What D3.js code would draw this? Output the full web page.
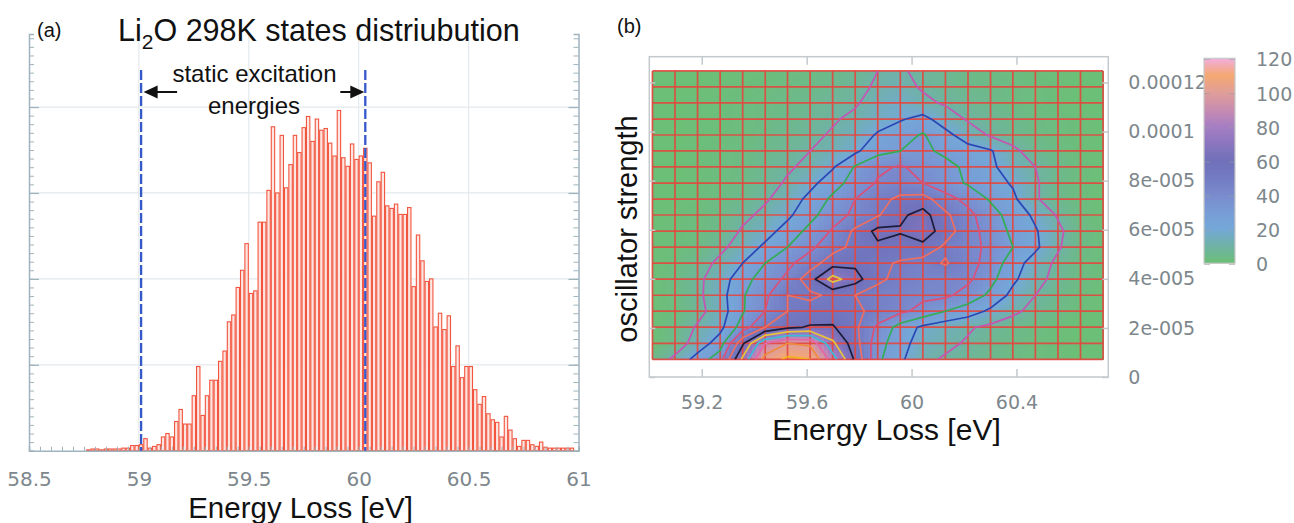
<!DOCTYPE html>
<html>
<head>
<meta charset="utf-8">
<script src="https://cdn.jsdelivr.net/npm/d3@7"></script>
<style>
  body { margin: 0; background: #fff; }
  text { font-family: "Liberation Sans", Arial, sans-serif; fill: #111; }
  .lbl text { font-family: "DejaVu Sans", Verdana, sans-serif; fill: #7d878c; }
</style>
</head>
<body>
<svg id="fig" width="1294" height="523"></svg>
<script>
// ---------- panel (a): states distribution ----------
const binStart = 58.76;
const binWidth = 0.02;
const counts = [1, 2, 2, 1, 2, 2, 2, 2, 3, 3, 6, 6, 7, 14,
  3, 5, 7, 16, 20, 16, 34, 48, 31, 31,
  64, 98, 41, 64, 82, 82, 104, 116, 150, 158,
  190, 210, 241, 183, 186, 266, 266, 303, 377, 300,
  367, 306, 333, 367, 347, 376, 389, 360, 386, 373,
  375, 358, 343, 396, 341, 331, 357, 339, 343, 352,
  335, 273, 313, 324, 285, 282, 287, 275, 275, 283,
  191, 251, 221, 197, 200, 144, 160, 141, 157, 98,
  122, 85, 98, 98, 71, 54, 63, 43, 36, 33,
  16, 40, 24, 14, 5, 12, 12, 7, 5, 10,
  4, 3, 3, 3, 3, 3, 3];
const staticLines = [59.01, 60.03];
const histTicks = [58.5, 59, 59.5, 60, 60.5, 61];
const histGrid = [59, 59.5, 60, 60.5];

// ---------- panel (b): oscillator strength map ----------
const energyNodes = [59.012, 59.098, 59.184, 59.270, 59.356, 59.442, 59.527, 59.613, 59.699, 59.785,
  59.871, 59.957, 60.043, 60.129, 60.215, 60.301, 60.386, 60.472, 60.558, 60.644, 60.730];
// rows from top (largest strength) to bottom, in units of 1e-6
const strengthNodes = [124.7, 118.2, 111.7, 105.1, 98.6, 92.1, 85.6, 79.0, 72.5, 66.0,
  59.4, 52.9, 46.4, 39.9, 33.3, 26.8, 20.3, 13.7, 7.2];
const density = [
  [0, 0, 0, 0, 1, 1, 2, 3, 4, 6, 10, 11, 8, 6, 4, 3, 2, 1, 1, 0, 0],
  [0, 0, 0, 1, 1, 2, 3, 4, 6, 8, 11, 13, 9, 7, 5, 4, 3, 2, 1, 0, 0],
  [0, 0, 1, 1, 2, 3, 4, 6, 8, 9, 14, 17, 12, 9, 7, 5, 3, 2, 1, 0, 0],
  [0, 0, 1, 1, 2, 3, 5, 7, 9, 12, 16, 19, 23, 15, 9, 7, 5, 3, 2, 1, 0],
  [0, 0, 1, 1, 2, 4, 6, 8, 11, 15, 21, 26, 31, 23, 15, 9, 6, 4, 2, 1, 0],
  [0, 0, 1, 2, 3, 5, 7, 10, 13, 18, 27, 30, 32, 28, 24, 21, 12, 6, 3, 1, 0],
  [0, 0, 1, 2, 3, 6, 9, 12, 19, 31, 38, 41, 37, 33, 28, 22, 15, 10, 5, 2, 0],
  [0, 0, 1, 2, 4, 7, 11, 17, 26, 34, 41, 44, 40, 34, 29, 24, 19, 11, 5, 2, 0],
  [0, 0, 1, 3, 5, 9, 14, 23, 32, 40, 47, 52, 54, 44, 37, 29, 22, 11, 5, 2, 0],
  [0, 1, 2, 4, 8, 12, 18, 27, 36, 42, 49, 58, 64, 52, 43, 34, 26, 18, 9, 3, 0],
  [0, 1, 2, 5, 11, 16, 24, 33, 41, 52, 63, 61, 66, 55, 44, 36, 28, 21, 12, 4, 1],
  [0, 1, 3, 8, 14, 22, 30, 38, 46, 53, 58, 55, 57, 48, 43, 38, 30, 22, 11, 4, 1],
  [0, 2, 6, 12, 20, 30, 38, 45, 56, 58, 52, 49, 46, 51, 44, 36, 25, 15, 8, 3, 1],
  [0, 3, 8, 15, 26, 35, 42, 56, 74, 64, 52, 47, 44, 43, 42, 33, 22, 13, 7, 3, 1],
  [0, 3, 8, 16, 29, 38, 50, 48, 52, 50, 46, 44, 42, 42, 36, 28, 17, 10, 5, 2, 0],
  [0, 2, 7, 15, 29, 40, 50, 54, 55, 52, 47, 42, 37, 30, 25, 18, 12, 7, 4, 1, 0],
  [0, 4, 11, 17, 35, 50, 58, 61, 61, 52, 38, 26, 18, 14, 11, 8, 5, 3, 1, 0, 0],
  [0, 5, 14, 25, 58, 90, 100, 98, 72, 54, 34, 24, 15, 12, 9, 6, 4, 2, 1, 0, 0],
  [4, 12, 24, 36, 72, 104, 112, 110, 85, 58, 32, 22, 12, 9, 7, 5, 3, 2, 1, 0, 0]
];
const contourLevels = [10, 20, 30, 40, 50, 60, 70, 80, 90, 100, 110];
const contourColors = ['#c455b4', '#2a48b4', '#33ad55', '#d9507a', '#ee6f62', '#1c1c3a',
  '#e6c43a', '#3cbcd6', '#e466a6', '#f08a3c', '#f0b020'];
const colorStops = [0, 10, 20, 30, 40, 50, 60, 70, 80, 90, 100, 110, 120];
const colorValues = ['#6cbf76', '#6fb2a4', '#74a8d8', '#789cd6', '#7a8bcd', '#737bc2', '#7070b9',
  '#8a76bf', '#a67ec3', '#c78cb0', '#e09e98', '#f4a872', '#f2aede'];
const mapXTicks = [59.2, 59.6, 60, 60.4];
const mapYTicks = [0, 2e-5, 4e-5, 6e-5, 8e-5, 1e-4, 1.2e-4];
const mapYLabels = ['0', '2e-005', '4e-005', '6e-005', '8e-005', '0.0001', '0.00012'];
const barTicks = [0, 20, 40, 60, 80, 100, 120];

const svg = d3.select('#fig');

// ================= panel (a) =================
let x = d3.scaleLinear().domain([58.5, 61]).range([29, 578.5]);
let y = d3.scaleLinear().domain([0, 485]).range([450.7, 34]);

// grid
svg.append('g').selectAll('line.vg').data(histGrid).enter().append('line')
  .attr('x1', (d) => x(d)).attr('x2', (d) => x(d)).attr('y1', y(485)).attr('y2', y(0))
  .attr('stroke', '#e3e9ed').attr('stroke-width', 1.2);
svg.append('g').selectAll('line.hg').data([100, 200, 300, 400]).enter().append('line')
  .attr('x1', x(58.5)).attr('x2', x(61)).attr('y1', (d) => y(d)).attr('y2', (d) => y(d))
  .attr('stroke', '#e3e9ed').attr('stroke-width', 1.2);

// bars
let bins = counts.map((c, i) => ({ x0: binStart + i * binWidth, x1: binStart + (i + 1) * binWidth, n: c }));
svg.append('g').selectAll('rect').data(bins).enter().append('rect')
  .attr('x', (d) => x(d.x0) + 0.5)
  .attr('y', (d) => y(d.n))
  .attr('width', (d) => x(d.x1) - x(d.x0) - 1)
  .attr('height', (d) => y(0) - y(d.n))
  .attr('fill', '#fde6e1')
  .attr('stroke', '#f2553f')
  .attr('stroke-width', 1.1);

// axes
let axisColor = '#9fb3be';
let minorX = d3.range(58.5, 61.001, 0.05);
svg.append('g').attr('transform', `translate(0,${y(0)})`)
  .call(d3.axisBottom(x).tickValues(minorX).tickSize(-4).tickFormat(''))
  .call((g) => g.selectAll('line').attr('stroke', axisColor))
  .call((g) => g.select('.domain').attr('stroke', axisColor).attr('stroke-width', 1.5));
svg.append('g').attr('class', 'lbl').attr('transform', `translate(0,${y(0)})`)
  .call(d3.axisBottom(x).tickValues(histTicks).tickSize(0).tickPadding(21.5).tickFormat((d) => d))
  .call((g) => g.select('.domain').remove())
  .call((g) => g.selectAll('text').attr('font-size', 20));

let minorY = d3.range(0, 481, 10);
[[x(58.5), d3.axisRight], [x(61), d3.axisLeft]].forEach(([px, ax]) => {
  svg.append('g').attr('transform', `translate(${px},0)`)
    .call(ax(y).tickValues(minorY).tickSize(5).tickFormat(''))
    .call((g) => g.selectAll('line').attr('stroke', axisColor))
    .call((g) => g.select('.domain').attr('stroke', axisColor).attr('stroke-width', 1.5));
  svg.append('g').attr('transform', `translate(${px},0)`)
    .call(ax(y).tickValues([100, 200, 300, 400]).tickSize(10).tickFormat(''))
    .call((g) => g.selectAll('line').attr('stroke', axisColor).attr('stroke-width', 1.3))
    .call((g) => g.select('.domain').remove());
});

// static excitation lines
svg.append('g').selectAll('line').data(staticLines).enter().append('line')
  .attr('x1', (d) => x(d)).attr('x2', (d) => x(d))
  .attr('y1', 70).attr('y2', y(0))
  .attr('stroke', '#3559c9').attr('stroke-width', 2.3).attr('stroke-dasharray', '10,3');

// arrows
let arrowY = 92;
function arrow(tip, tail) {
  let dir = Math.sign(tip - tail);
  svg.append('line').attr('x1', tail).attr('x2', tip - dir * 10).attr('y1', arrowY).attr('y2', arrowY)
    .attr('stroke', '#111').attr('stroke-width', 2);
  svg.append('path')
    .attr('d', `M${tip},${arrowY} L${tip - dir * 14},${arrowY - 6.5} L${tip - dir * 14},${arrowY + 6.5} Z`)
    .attr('fill', '#111');
}
arrow(x(staticLines[0]) + 2.5, x(staticLines[0]) + 36);
arrow(x(staticLines[1]) - 1, x(staticLines[1]) - 25);

svg.append('text').attr('x', 254.5).attr('y', 82).attr('text-anchor', 'middle').attr('font-size', 24).text('static excitation');
svg.append('text').attr('x', 254).attr('y', 114).attr('text-anchor', 'middle').attr('font-size', 24).text('energies');

// titles
svg.append('text').attr('x', 37).attr('y', 37).attr('font-size', 20).text('(a)');
let title = svg.append('text').attr('x', 118).attr('y', 41).attr('font-size', 30.5);
title.append('tspan').text('Li');
title.append('tspan').attr('font-size', 21).attr('dy', 8).text('2');
title.append('tspan').attr('dy', -8).text('O 298K states distriubution');
svg.append('text').attr('x', 300.5).attr('y', 518).attr('text-anchor', 'middle').attr('font-size', 29.5).text('Energy Loss [eV]');

// ================= panel (b) =================
let xm = d3.scaleLinear().domain([59.0, 60.75]).range([649.3, 1108.3]);
let ym = d3.scaleLinear().domain([0, 1.305e-4]).range([377, 56.7]);
let color = d3.scaleLinear().domain(colorStops).range(colorValues).clamp(true);

let nx = energyNodes.length, ny = strengthNodes.length;
let xn = energyNodes.map((e) => xm(e));
let yn = strengthNodes.map((s) => ym(s * 1e-6));

// interpolated heat map (each cell split into sub-cells)
let sub = 5;
let pieces = [];
for (let j = 0; j < ny - 1; j++) {
  for (let i = 0; i < nx - 1; i++) {
    for (let a = 0; a < sub; a++) {
      for (let b = 0; b < sub; b++) {
        let u = (a + 0.5) / sub, v = (b + 0.5) / sub;
        let val = density[j][i] * (1 - u) * (1 - v) + density[j][i + 1] * u * (1 - v)
          + density[j + 1][i] * (1 - u) * v + density[j + 1][i + 1] * u * v;
        let x0 = xn[i] + (xn[i + 1] - xn[i]) * a / sub;
        let y0 = yn[j] + (yn[j + 1] - yn[j]) * b / sub;
        pieces.push({ x: x0, y: y0, w: (xn[i + 1] - xn[i]) / sub, h: (yn[j + 1] - yn[j]) / sub, v: val });
      }
    }
  }
}
svg.append('g').attr('shape-rendering', 'crispEdges').selectAll('rect').data(pieces).enter().append('rect')
  .attr('x', (d) => d.x).attr('y', (d) => d.y)
  .attr('width', (d) => d.w + 0.6).attr('height', (d) => d.h + 0.6)
  .attr('fill', (d) => color(d.v));

// red mesh
let mesh = svg.append('g').attr('stroke', '#e4463e').attr('stroke-width', 1.7).attr('stroke-opacity', 0.9);
mesh.selectAll('line.v').data(xn).enter().append('line')
  .attr('x1', (d) => d).attr('x2', (d) => d).attr('y1', yn[0]).attr('y2', yn[ny - 1]);
mesh.selectAll('line.h').data(yn).enter().append('line')
  .attr('y1', (d) => d).attr('y2', (d) => d).attr('x1', xn[0]).attr('x2', xn[nx - 1]);

// contour lines
svg.append('clipPath').attr('id', 'mapclip').append('rect')
  .attr('x', xn[0]).attr('y', yn[0]).attr('width', xn[nx - 1] - xn[0]).attr('height', yn[ny - 1] - yn[0]);
let gx = d3.scaleLinear().domain([0.5, nx - 0.5]).range([xn[0], xn[nx - 1]]);
let gy = d3.scaleLinear().domain([0.5, ny - 0.5]).range([yn[0], yn[ny - 1]]);
let proj = d3.geoTransform({ point: function (px, py) { this.stream.point(gx(px), gy(py)); } });
let contours = d3.contours().size([nx, ny]).thresholds(contourLevels)(density.flat());
svg.append('g').attr('clip-path', 'url(#mapclip)').selectAll('path').data(contours).enter().append('path')
  .attr('d', d3.geoPath(proj))
  .attr('fill', 'none')
  .attr('stroke', (d) => contourColors[contourLevels.indexOf(d.value)])
  .attr('stroke-width', 1.7)
  .attr('stroke-linejoin', 'round');

// frame and ticks
let frameColor = '#c3c9cd';
svg.append('rect').attr('x', xm(59.0)).attr('y', ym(1.305e-4))
  .attr('width', xm(60.75) - xm(59.0)).attr('height', ym(0) - ym(1.305e-4))
  .attr('fill', 'none').attr('stroke', frameColor).attr('stroke-width', 1.5);
svg.append('g').attr('transform', `translate(0,${ym(1.305e-4)})`)
  .call(d3.axisTop(xm).tickValues(mapXTicks).tickSize(-8).tickFormat(''))
  .call((g) => g.select('.domain').remove())
  .call((g) => g.selectAll('line').attr('stroke', frameColor).attr('stroke-width', 1.5));
svg.append('g').attr('class', 'lbl').attr('transform', `translate(0,${ym(0)})`)
  .call(d3.axisBottom(xm).tickValues(mapXTicks).tickSize(-8).tickPadding(18.5).tickFormat((d) => d))
  .call((g) => g.select('.domain').remove())
  .call((g) => g.selectAll('line').attr('stroke', frameColor).attr('stroke-width', 1.5))
  .call((g) => g.selectAll('text').attr('font-size', 19));
svg.append('g').attr('transform', `translate(${xm(59.0)},0)`)
  .call(d3.axisRight(ym).tickValues(mapYTicks).tickSize(6).tickFormat(''))
  .call((g) => g.select('.domain').remove())
  .call((g) => g.selectAll('line').attr('stroke', frameColor).attr('stroke-width', 1.5));
svg.append('g').attr('class', 'lbl').attr('transform', `translate(${xm(60.75)},0)`)
  .call(d3.axisRight(ym).tickValues(mapYTicks).tickSize(-6).tickPadding(20)
    .tickFormat((d, i) => mapYLabels[i]))
  .call((g) => g.select('.domain').remove())
  .call((g) => g.selectAll('line').attr('stroke', frameColor).attr('stroke-width', 1.5))
  .call((g) => g.selectAll('text').attr('font-size', 19));

// colour bar
let cb = d3.scaleLinear().domain([0, 120]).range([264, 59]);
let grad = svg.append('defs').append('linearGradient').attr('id', 'cbgrad')
  .attr('x1', 0).attr('x2', 0).attr('y1', 1).attr('y2', 0);
grad.selectAll('stop').data(colorStops).enter().append('stop')
  .attr('offset', (d) => d / 120).attr('stop-color', (d) => color(d));
svg.append('rect').attr('x', 1204).attr('y', cb(120) - 0.7).attr('width', 31).attr('height', cb(0) - cb(120))
  .attr('fill', 'url(#cbgrad)').attr('stroke', '#c8c8c8').attr('stroke-width', 1.2);
svg.append('g').attr('class', 'lbl').attr('transform', 'translate(1235,0)')
  .call(d3.axisRight(cb).tickValues(barTicks).tickSize(-6).tickPadding(21))
  .call((g) => g.select('.domain').remove())
  .call((g) => g.selectAll('line').attr('stroke', '#9aa2a8').attr('stroke-opacity', 0.6))
  .call((g) => g.selectAll('text').attr('font-size', 19).attr('dy', '0.36em'));
svg.append('g').attr('transform', 'translate(1204,0)')
  .call(d3.axisRight(cb).tickValues(barTicks).tickSize(6).tickFormat(''))
  .call((g) => g.select('.domain').remove())
  .call((g) => g.selectAll('line').attr('stroke', '#9aa2a8').attr('stroke-opacity', 0.6));

// labels
svg.append('text').attr('x', 617).attr('y', 33).attr('font-size', 20).text('(b)');
svg.append('text').attr('transform', 'translate(637,229) rotate(-90)').attr('text-anchor', 'middle')
  .attr('font-size', 29).text('oscillator strength');
svg.append('text').attr('x', 886.5).attr('y', 440).attr('text-anchor', 'middle').attr('font-size', 30).text('Energy Loss [eV]');
</script>
</body>
</html>
